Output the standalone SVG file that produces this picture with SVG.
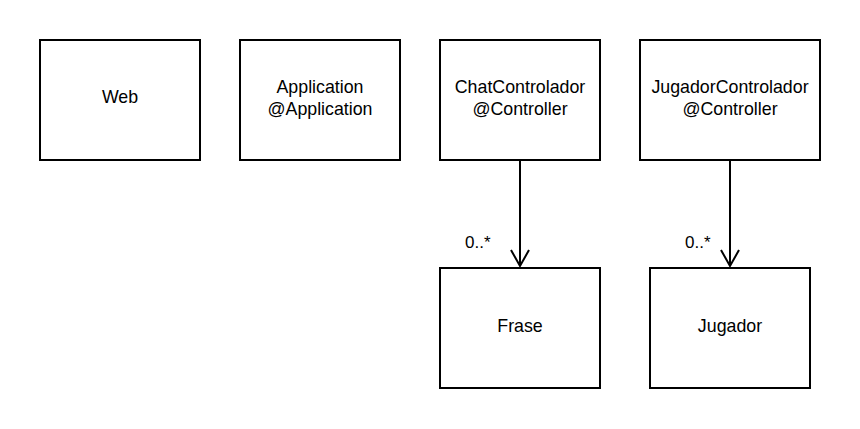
<svg xmlns="http://www.w3.org/2000/svg" width="860" height="429" viewBox="0 0 860 429">
<style>
.box{fill:#fff;stroke:#000;stroke-width:2}
.t{font-family:"Liberation Sans",Arial,sans-serif;font-size:17.8px;fill:#000;text-anchor:middle}
.l{font-family:"Liberation Sans",Arial,sans-serif;font-size:17px;fill:#000}
.c{stroke:#000;stroke-width:2;fill:none}
</style>
<defs>
<marker id="open" markerWidth="24" markerHeight="24" refX="18" refY="12" orient="auto" markerUnits="userSpaceOnUse" viewBox="0 0 24 24">
<path d="M2 3 L18 12 L2 21" fill="none" stroke="#000" stroke-width="2"/>
</marker>
</defs>
<rect width="860" height="429" fill="#fff"/>
<g id="web"><rect class="box" x="40" y="40" width="160" height="120"/><text class="t" x="120" y="103">Web</text></g>
<g id="application"><rect class="box" x="240" y="40" width="160" height="120"/><text class="t" x="320" y="93">Application</text><text class="t" x="320" y="115">@Application</text></g>
<g id="chatcontrolador"><rect class="box" x="440" y="40" width="160" height="120"/><text class="t" x="520" y="93">ChatControlador</text><text class="t" x="520" y="115">@Controller</text></g>
<g id="jugadorcontrolador"><rect class="box" x="640" y="40" width="180" height="120"/><text class="t" x="730" y="93">JugadorControlador</text><text class="t" x="730" y="115">@Controller</text></g>
<g id="frase"><rect class="box" x="440" y="268" width="160" height="120"/><text class="t" x="520" y="332">Frase</text></g>
<g id="jugador"><rect class="box" x="650" y="268" width="160" height="120"/><text class="t" x="730" y="332">Jugador</text></g>
<g id="connectors">
<path class="c" d="M520 160 V266" marker-end="url(#open)"/>
<text class="l" x="465" y="248">0..*</text>
<path class="c" d="M730 160 V266" marker-end="url(#open)"/>
<text class="l" x="685" y="248">0..*</text>
</g>
</svg>
